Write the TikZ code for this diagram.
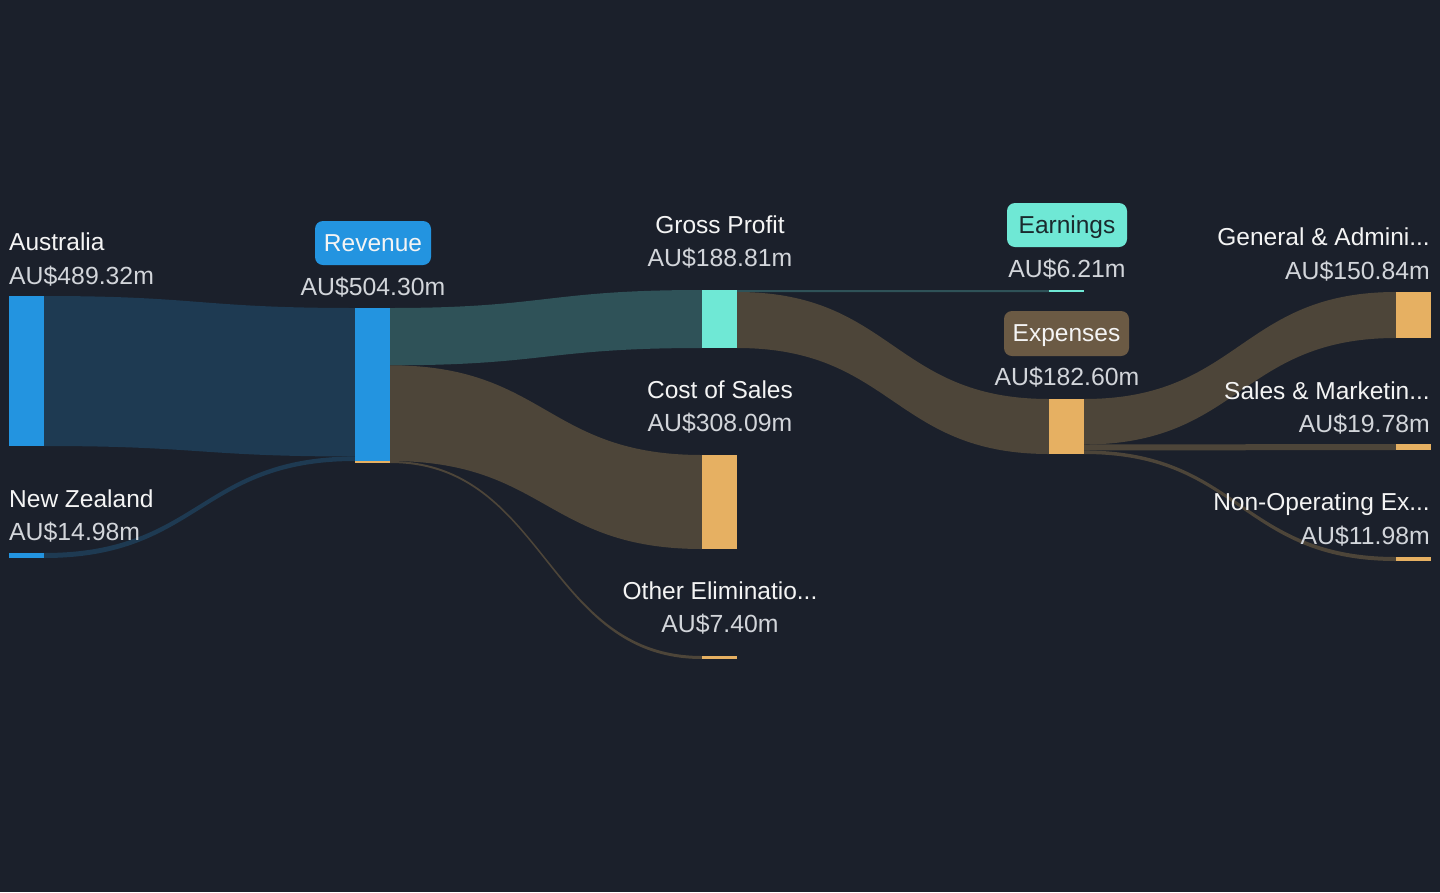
\documentclass[tikz,border=0pt]{standalone}
\usepackage{fontspec}
\setmainfont{Liberation Sans}
\definecolor{bg}{HTML}{1B202B}
\definecolor{barblue}{HTML}{2394E0}
\definecolor{barteal}{HTML}{6FE8D5}
\definecolor{barorange}{HTML}{E6B062}
\definecolor{linkblue}{HTML}{1E3A52}
\definecolor{linkteal}{HTML}{2F5258}
\definecolor{linkbrown}{HTML}{4D4539}
\definecolor{pillbrown}{HTML}{6B5A44}
\definecolor{namecol}{HTML}{F4F4F4}
\definecolor{valcol}{HTML}{D2D5DA}
\definecolor{darktext}{HTML}{1A2A2E}
\newcommand\sankeyflow[7]{%
  \fill[#7] (#1,#2) .. controls ({(#1+#4)/2},#2) and ({(#1+#4)/2},#5) .. (#4,#5)
    -- (#4,#6) .. controls ({(#1+#4)/2},#6) and ({(#1+#4)/2},#3) .. (#1,#3) -- cycle;}
\tikzset{
  bar/.style={rectangle, inner sep=0pt, draw=none, minimum width=35pt},
  lblname/.style={text=namecol, font=\fontsize{24.5}{28}\selectfont, inner sep=0pt},
  lblval/.style={text=valcol, font=\fontsize{24.8}{28}\selectfont, inner sep=0pt},
  pill/.style={rounded corners=8pt, inner sep=0pt, minimum height=44pt,
    text height=17pt, text depth=1pt, font=\fontsize{24.5}{28}\selectfont}
}
\begin{document}
\begin{tikzpicture}[x=1pt,y=-1pt]
\fill[bg] (0,0) rectangle (1440,892);
\useasboundingbox (0,0) rectangle (1440,892);

% flows
\sankeyflow{44}{296}{446}{355}{308}{456.5}{linkblue}
\sankeyflow{44}{553}{558}{355}{456.5}{461}{linkblue}
\sankeyflow{390}{308}{365.3}{702}{290}{348}{linkteal}
\sankeyflow{390}{365.3}{461}{702}{455}{549}{linkbrown}
\sankeyflow{390}{461}{463}{702}{656}{659}{linkbrown}
\sankeyflow{737}{290}{292}{1049}{290}{292}{linkteal}
\sankeyflow{737}{292}{348}{1049}{399}{454}{linkbrown}
\sankeyflow{1084}{399}{444.5}{1396}{292}{338}{linkbrown}
\sankeyflow{1084}{444.5}{450.5}{1396}{444}{450}{linkbrown}
\sankeyflow{1084}{450.5}{454}{1396}{557}{561}{linkbrown}

% bars
\node[bar, fill=barblue, minimum height=150pt] (aus) at (26.5,371) {};
\node[bar, fill=barblue, minimum height=5pt] (nz) at (26.5,555.5) {};
\node[bar, fill=barblue, minimum height=153pt] (rev) at (372.5,384.5) {};
\node[bar, fill=barorange, minimum height=2pt] (revstrip) at (372.5,462) {};
\node[bar, fill=barteal, minimum height=58pt] (gp) at (719.5,319) {};
\node[bar, fill=barorange, minimum height=94pt] (cos) at (719.5,502) {};
\node[bar, fill=barorange, minimum height=3pt] (oth) at (719.5,657.5) {};
\node[bar, fill=barteal, minimum height=2pt] (earn) at (1066.5,291) {};
\node[bar, fill=barorange, minimum height=55pt] (exp) at (1066.5,426.5) {};
\node[bar, fill=barorange, minimum height=46pt] (ga) at (1413.5,315) {};
\node[bar, fill=barorange, minimum height=6pt] (sm) at (1413.5,447) {};
\node[bar, fill=barorange, minimum height=4pt] (nonop) at (1413.5,559) {};

% pills
\node[pill, fill=barblue, text=namecol, minimum width=116pt] (revpill) at (373,243) {Revenue};
\node[pill, fill=barteal, text=darktext, minimum width=120pt] (earnpill) at (1067,225) {Earnings};
\node[pill, fill=pillbrown, text=namecol, minimum width=125pt, minimum height=45pt] (exppill) at (1066.5,333.5) {Expenses};

% labels
\node[lblname, anchor=base west] (ausn) at (9,250) {Australia};
\node[lblval, anchor=base west] (ausv) at (9,284) {AU\$489.32m};
\node[lblname, anchor=base west] (nzn) at (9,507) {New Zealand};
\node[lblval, anchor=base west] (nzv) at (9,540) {AU\$14.98m};
\node[lblval, anchor=base] (revv) at (373,295) {AU\$504.30m};
\node[lblname, anchor=base] (gpn) at (720,233) {Gross Profit};
\node[lblval, anchor=base] (gpv) at (720,266.5) {AU\$188.81m};
\node[lblname, anchor=base] (cosn) at (720,398) {Cost of Sales};
\node[lblval, anchor=base] (cosv) at (720,431.5) {AU\$308.09m};
\node[lblname, anchor=base] (othn) at (720,599) {Other Eliminatio...};
\node[lblval, anchor=base] (othv) at (720,632.5) {AU\$7.40m};
\node[lblval, anchor=base] (earnv) at (1067,277.5) {AU\$6.21m};
\node[lblval, anchor=base] (expv) at (1067,385.5) {AU\$182.60m};
\node[lblname, anchor=base east] (gan) at (1430,245) {General \& Admini...};
\node[lblval, anchor=base east] (gav) at (1430,279) {AU\$150.84m};
\node[lblname, anchor=base east] (smn) at (1430,399) {Sales \& Marketin...};
\node[lblval, anchor=base east] (smv) at (1430,432.5) {AU\$19.78m};
\node[lblname, anchor=base east] (non) at (1430,510) {Non-Operating Ex...};
\node[lblval, anchor=base east] (nov) at (1430,544) {AU\$11.98m};
\end{tikzpicture}
\end{document}
